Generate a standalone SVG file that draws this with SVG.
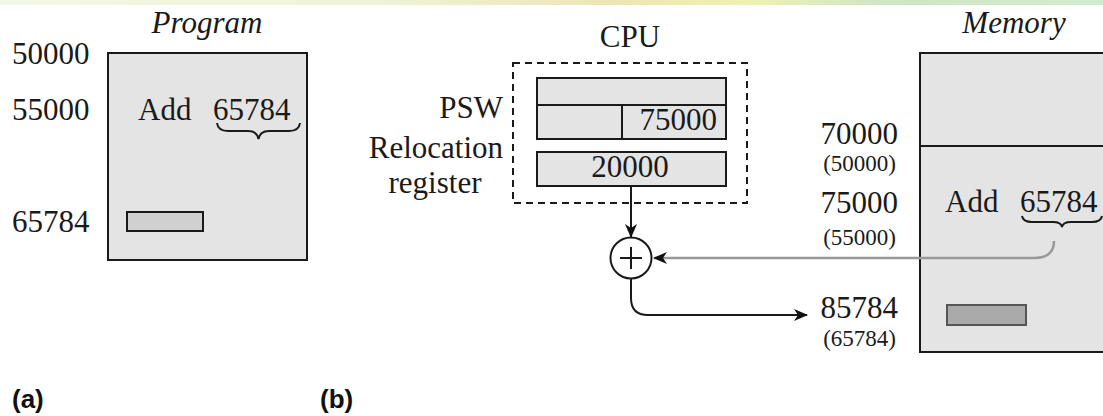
<svg xmlns="http://www.w3.org/2000/svg" width="1103" height="416" viewBox="0 0 1103 416">
  <style>
    .t { font-family: "Liberation Serif", "Times New Roman", serif; font-size: 31px; fill: #1a1a1a; }
    .it { font-style: italic; }
    .s { font-size: 23px; }
    .lab { font-family: "Liberation Sans", Arial, sans-serif; font-size: 26px; font-weight: bold; fill: #111; }
    .box { fill: #e4e4e4; stroke: #1a1a1a; stroke-width: 2; }
    .line { fill: none; stroke: #1a1a1a; stroke-width: 2; }
    .gray { fill: none; stroke: #999; stroke-width: 2.5; }
  </style>
  <defs>
    <linearGradient id="band" x1="0" y1="0" x2="1" y2="0">
      <stop offset="0" stop-color="#f3f7e6"/>
      <stop offset="0.35" stop-color="#eef3d6"/>
      <stop offset="0.55" stop-color="#ebe6b4"/>
      <stop offset="0.68" stop-color="#eef1b4"/>
      <stop offset="0.8" stop-color="#cfe6c4"/>
      <stop offset="1" stop-color="#d3ebd0"/>
    </linearGradient>
    <marker id="arr" viewBox="0 0 14 12" refX="13" refY="6" markerWidth="14" markerHeight="12" markerUnits="userSpaceOnUse" orient="auto">
      <path d="M0,0 L14,6 L0,12 L4,6 Z" fill="#111"/>
    </marker>
  </defs>

  <rect x="0" y="0" width="1103" height="5" fill="url(#band)"/>

  <!-- (a) program view -->
  <g id="program">
    <text class="t it" x="207" y="33" text-anchor="middle">Program</text>
    <rect class="box" x="108" y="53" width="199" height="207"/>
    <rect x="127" y="212" width="76" height="19" fill="#d0d0d0" stroke="#1a1a1a" stroke-width="2"/>
    <text class="t" x="12" y="64">50000</text>
    <text class="t" x="12" y="120">55000</text>
    <text class="t" x="12" y="232">65784</text>
    <text class="t" x="138" y="120">Add</text>
    <text class="t" x="213" y="120">65784</text>
    <path class="line" d="M217,123 Q218,131 228,131 L248,131 Q257,131 258.5,139 Q260,131 269,131 L289,131 Q299,131 300,123"/>
  </g>

  <!-- (b) CPU with PSW and relocation register -->
  <g id="cpu">
    <text class="t" x="630" y="47" text-anchor="middle">CPU</text>
    <rect x="513" y="63" width="234" height="140" fill="none" stroke="#1a1a1a" stroke-width="2" stroke-dasharray="7,5"/>
    <rect class="box" x="537" y="78" width="189" height="61"/>
    <line class="line" x1="537" y1="105" x2="726" y2="105"/>
    <line class="line" x1="622" y1="105" x2="622" y2="139"/>
    <text class="t" x="717" y="130" text-anchor="end">75000</text>
    <rect class="box" x="537" y="152" width="189" height="34"/>
    <text class="t" x="630" y="177" text-anchor="middle">20000</text>
    <text class="t" x="503" y="118" text-anchor="end">PSW</text>
    <text class="t" x="503" y="158" text-anchor="end">Relocation</text>
    <text class="t" x="435" y="193" text-anchor="middle">register</text>
  </g>

  <g id="adder">
    <circle cx="631" cy="258" r="20.5" fill="#fff" stroke="#1a1a1a" stroke-width="2"/>
    <line class="line" x1="620" y1="258" x2="642" y2="258"/>
    <line class="line" x1="631" y1="247" x2="631" y2="269"/>
  </g>

  <!-- memory -->
  <g id="memory">
    <text class="t it" x="1014" y="33" text-anchor="middle">Memory</text>
    <rect class="box" x="920" y="53" width="200" height="299"/>
    <line class="line" x1="920" y1="146" x2="1110" y2="146"/>
    <rect x="947" y="305" width="79" height="20" fill="#aaa" stroke="#555" stroke-width="2"/>
    <text class="t" x="945" y="212">Add</text>
    <text class="t" x="1020" y="212">65784</text>
    <path class="line" d="M1022,216 Q1023,222 1032,222 L1053,222 Q1061,222 1062,227 Q1063,222 1071,222 L1092,222 Q1101,222 1102,216"/>
    <text class="t" x="898" y="144" text-anchor="end">70000</text>
    <text class="t s" x="896" y="171" text-anchor="end">(50000)</text>
    <text class="t" x="898" y="213" text-anchor="end">75000</text>
    <text class="t s" x="896" y="245" text-anchor="end">(55000)</text>
    <text class="t" x="898" y="318" text-anchor="end">85784</text>
    <text class="t s" x="896" y="346" text-anchor="end">(65784)</text>
  </g>

  <g id="connectors">
    <line class="line" x1="631" y1="186" x2="631" y2="237" marker-end="url(#arr)"/>
    <path class="gray" d="M1054,241 Q1054,258 1034,258 L654,258" marker-end="url(#arr)"/>
    <path class="line" d="M631,279 L631,298 Q631,315 648,315 L807,315" marker-end="url(#arr)"/>
  </g>

  <text class="lab" x="12" y="408">(a)</text>
  <text class="lab" x="320" y="408">(b)</text>
</svg>
